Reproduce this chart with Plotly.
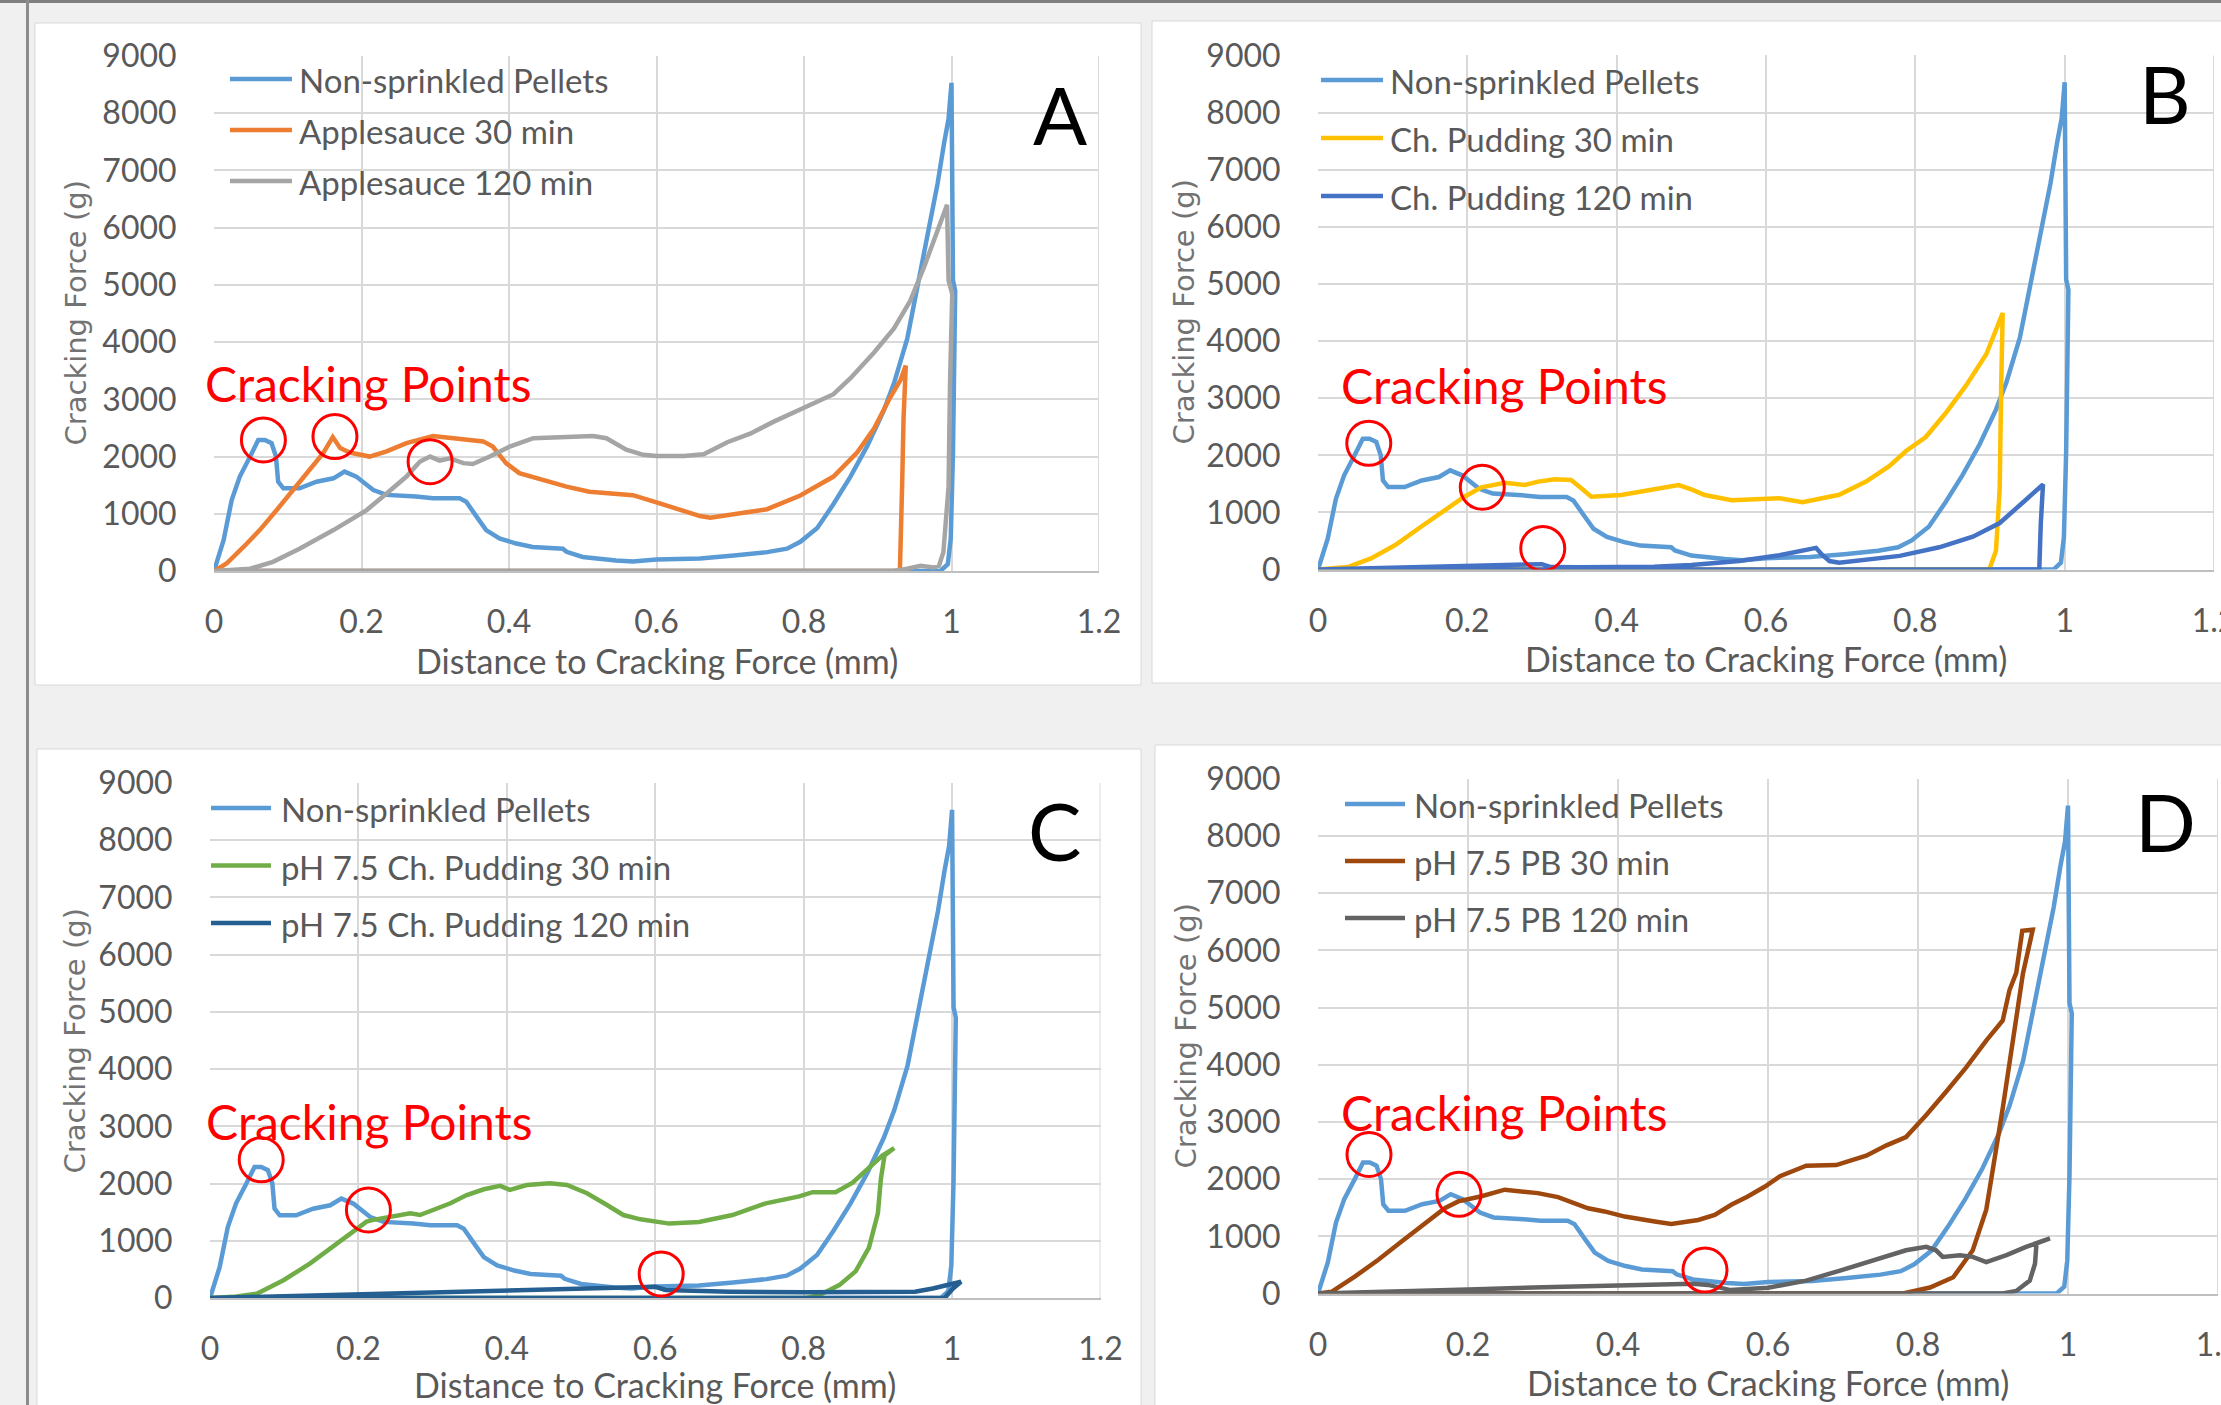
import plotly.graph_objects as go

W, H = 2221, 1405

# ---------------- data ----------------
x_ticks = [0, 0.2, 0.4, 0.6, 0.8, 1.0, 1.2]
x_tick_labels = ["0", "0.2", "0.4", "0.6", "0.8", "1", "1.2"]
y_ticks = [0, 1000, 2000, 3000, 4000, 5000, 6000, 7000, 8000, 9000]
y_tick_labels = ["0", "1000", "2000", "3000", "4000", "5000", "6000", "7000", "8000", "9000"]

x_title = "Distance to Cracking Force (mm)"
y_title = "Cracking Force (g)"
note_text = "Cracking Points"
panel_letters = ["A", "B", "C", "D"]

# Non-sprinkled Pellets (same in all panels)
ns_x = [0, 0.013, 0.024, 0.035, 0.049, 0.060, 0.069, 0.078, 0.084, 0.087, 0.094, 0.116, 0.139, 0.162,
        0.177, 0.193, 0.216, 0.234, 0.274, 0.297, 0.333, 0.342, 0.356, 0.369, 0.387, 0.41, 0.432, 0.473,
        0.478, 0.5, 0.545, 0.568, 0.6, 0.659, 0.705, 0.75, 0.777, 0.795, 0.818, 0.84, 0.863, 0.886, 0.908,
        0.922, 0.94, 0.953, 0.967, 0.981, 0.99, 0.996, 1.0, 1.001, 1.002, 1.005, 1.004, 1.002, 0.999,
        0.995, 0.985, 0]
ns_y = [0, 540, 1240, 1650, 2000, 2290, 2290, 2235, 2000, 1560, 1445, 1445, 1560, 1620,
        1737, 1650, 1415, 1330, 1300, 1270, 1270, 1210, 950, 715, 570, 480, 420, 390,
        335, 245, 185, 165, 200, 220, 270, 330, 390, 510, 750, 1170, 1650, 2190, 2800,
        3280, 4060, 4900, 5860, 6760, 7480, 7900, 8530, 7480, 5080, 4900, 3880, 2070, 570,
        120, 0, 0]

# Panel A
as30_x = [0, 0.017, 0.04, 0.062, 0.085, 0.107, 0.13, 0.148, 0.161, 0.171, 0.184, 0.211, 0.234, 0.261,
          0.297, 0.333, 0.365, 0.378, 0.396, 0.414, 0.455, 0.478, 0.509, 0.568, 0.6, 0.659, 0.673, 0.75,
          0.795, 0.84, 0.872, 0.895, 0.917, 0.931, 0.938, 0.935, 0.933, 0.93, 0]
as30_y = [0, 130, 420, 715, 1065, 1415, 1765, 2060, 2340, 2150, 2070, 2000, 2090, 2235,
          2360, 2320, 2265, 2175, 1885, 1710, 1560, 1475, 1385, 1325, 1200, 960, 930, 1080,
          1320, 1650, 2070, 2490, 3035, 3340, 3590, 2670, 1470, 0, 0]
as120_x = [0, 0.049, 0.08, 0.116, 0.162, 0.207, 0.234, 0.261, 0.279, 0.293, 0.306, 0.32, 0.338, 0.351,
           0.374, 0.401, 0.433, 0.478, 0.514, 0.532, 0.559, 0.582, 0.6, 0.637, 0.664, 0.696, 0.727, 0.759,
           0.795, 0.84, 0.863, 0.895, 0.922, 0.944, 0.963, 0.981, 0.994, 0.996, 1.001, 0.998, 0.996, 0.989,
           0.983, 0.976, 0.958, 0.94, 0.922, 0]
as120_y = [0, 40, 160, 390, 715, 1065, 1355, 1650, 1910, 2000, 1930, 1970, 1885, 1870,
           2000, 2175, 2320, 2335, 2360, 2320, 2120, 2030, 2010, 2010, 2040, 2250, 2400, 2610,
           2820, 3090, 3370, 3820, 4240, 4720, 5320, 5920, 6400, 5080, 4840, 3280, 1470, 330,
           90, 60, 90, 40, 0, 0]

# Panel B
cp30_x = [0, 0.04, 0.071, 0.103, 0.138, 0.17, 0.196, 0.219, 0.232, 0.25, 0.277, 0.295, 0.317, 0.339,
          0.353, 0.366, 0.406, 0.451, 0.483, 0.5, 0.518, 0.554, 0.598, 0.618, 0.649, 0.698, 0.734, 0.765,
          0.788, 0.814, 0.841, 0.868, 0.895, 0.917, 0.915, 0.913, 0.908, 0.899, 0]
cp30_y = [0, 45, 195, 425, 750, 1040, 1275, 1440, 1480, 1520, 1480, 1540, 1580, 1570,
          1420, 1275, 1305, 1405, 1480, 1405, 1305, 1215, 1230, 1250, 1180, 1310, 1540, 1810,
          2080, 2320, 2745, 3225, 3770, 4490, 3225, 1420, 330, 0, 0]
cp120_x = [0, 0.1, 0.2, 0.28, 0.3, 0.312, 0.35, 0.45, 0.5, 0.564, 0.618, 0.667, 0.675, 0.685, 0.698,
           0.779, 0.832, 0.877, 0.913, 0.944, 0.971, 0.968, 0.966, 0]
cp120_y = [0, 30, 70, 100, 95, 45, 40, 50, 80, 150, 250, 380, 260, 150, 120,
           240, 390, 575, 815, 1175, 1490, 800, 0, 0]

# Panel C
g30_x = [0, 0.031, 0.063, 0.099, 0.135, 0.166, 0.193, 0.211, 0.22, 0.238, 0.256, 0.27, 0.283, 0.301,
         0.324, 0.346, 0.369, 0.391, 0.404, 0.427, 0.458, 0.481, 0.508, 0.535, 0.557, 0.58, 0.607, 0.619,
         0.659, 0.704, 0.749, 0.794, 0.812, 0.843, 0.866, 0.888, 0.906, 0.922, 0.909, 0.904, 0.9, 0.888,
         0.87, 0.848, 0.821, 0.803, 0]
g30_y = [0, 20, 75, 310, 605, 895, 1160, 1335, 1365, 1410, 1450, 1480, 1450, 1540,
         1655, 1800, 1900, 1960, 1890, 1975, 2005, 1975, 1830, 1625, 1450, 1375, 1315, 1300,
         1330, 1450, 1655, 1775, 1850, 1850, 2015, 2285, 2490, 2620, 2490, 2075, 1480, 880,
         465, 225, 50, 0, 0]
g120_x = [0, 0.2, 0.4, 0.525, 0.6, 0.614, 0.7, 0.8, 0.9, 0.95, 0.974, 0.992, 1.012, 1.0, 0.99, 0]
g120_y = [0, 60, 120, 165, 195, 140, 110, 100, 105, 110, 165, 225, 285, 150, 0, 0]

# Panel D
pb30_x = [0, 0.018, 0.049, 0.08, 0.111, 0.138, 0.169, 0.187, 0.2, 0.218, 0.249, 0.271, 0.293, 0.32,
          0.36, 0.382, 0.409, 0.449, 0.471, 0.507, 0.529, 0.551, 0.573, 0.596, 0.616, 0.651, 0.691,
          0.731, 0.758, 0.784, 0.811, 0.838, 0.864, 0.891, 0.913, 0.922, 0.931, 0.939, 0.953, 0.94,
          0.927, 0.913, 0.902, 0.891, 0.873, 0.847, 0.816, 0.78, 0]
pb30_y = [0, 30, 295, 585, 905, 1170, 1490, 1610, 1640, 1700, 1815, 1785, 1755, 1685,
          1490, 1435, 1345, 1260, 1215, 1285, 1375, 1550, 1695, 1870, 2050, 2235, 2245,
          2410, 2590, 2735, 3120, 3535, 3950, 4420, 4775, 5305, 5605, 6340, 6360, 5600,
          4420, 3240, 2350, 1465, 755, 285, 105, 0, 0]
pb120_x = [0, 0.1, 0.2, 0.3, 0.4, 0.5, 0.52, 0.55, 0.6, 0.651, 0.696, 0.74, 0.784, 0.811, 0.824,
           0.833, 0.856, 0.873, 0.891, 0.918, 0.944, 0.976, 0.958, 0.956, 0.949, 0.931, 0.913, 0]
pb120_y = [0, 30, 70, 110, 140, 170, 150, 60, 100, 225, 400, 580, 755, 815, 755,
           640, 670, 640, 550, 670, 815, 965, 875, 520, 225, 45, 0, 0]

# Cracking points (circled)
crack_A_x = [0.067, 0.164, 0.293]
crack_A_y = [2290, 2350, 1910]
crack_B_x = [0.068, 0.22, 0.301]
crack_B_y = [2210, 1440, 370]
crack_C_x = [0.069, 0.2135, 0.608]
crack_C_y = [2415, 1540, 420]
crack_D_x = [0.068, 0.188, 0.516]
crack_D_y = [2430, 1735, 410]

# ---------------- styling ----------------
C_NS = "#5B9BD5"
FONT = "Lato, 'Liberation Sans', sans-serif"
YFONT = "'DejaVu Sans', sans-serif"
TXT = "#595959"
GRID = "#D9D9D9"


def px(x):
    return x / W


def py(y):
    return 1 - y / H


panels = [
    dict(series=[("Non-sprinkled Pellets", ns_x, ns_y, C_NS),
                 ("Applesauce 30 min", as30_x, as30_y, "#ED7D31"),
                 ("Applesauce 120 min", as120_x, as120_y, "#A5A5A5")],
         crack=(crack_A_x, crack_A_y), plot=(214, 1099, 56, 571), box=(35, 1141, 23, 685),
         leg=(230, 292, 297, [79, 130, 181]), ytit=(76, 313.5), xtit=(656.5, 660),
         letter=(1060, 108), note=(367.5, 379)),
    dict(series=[("Non-sprinkled Pellets", ns_x, ns_y, C_NS),
                 ("Ch. Pudding 30 min", cp30_x, cp30_y, "#FFC000"),
                 ("Ch. Pudding 120 min", cp120_x, cp120_y, "#4472C4")],
         crack=(crack_B_x, crack_B_y), plot=(1318, 2214, 55.4, 569.6), box=(1152, 2250, 21, 683),
         leg=(1321, 1383, 1388, [80, 138, 196]), ytit=(1183, 312.5), xtit=(1766, 658.5),
         letter=(2165, 87), note=(1503.5, 381)),
    dict(series=[("Non-sprinkled Pellets", ns_x, ns_y, C_NS),
                 ("pH 7.5 Ch. Pudding 30 min", g30_x, g30_y, "#70AD47"),
                 ("pH 7.5 Ch. Pudding 120 min", g120_x, g120_y, "#255E91")],
         crack=(crack_C_x, crack_C_y), plot=(210, 1100.5, 783, 1298), box=(37, 1141, 749, 1430),
         leg=(211, 271, 279, [808, 865.5, 923]), ytit=(74.5, 1041), xtit=(655, 1384),
         letter=(1054, 824.5), note=(369, 1117.5)),
    dict(series=[("Non-sprinkled Pellets", ns_x, ns_y, C_NS),
                 ("pH 7.5 PB 30 min", pb30_x, pb30_y, "#9E480E"),
                 ("pH 7.5 PB 120 min", pb120_x, pb120_y, "#636363")],
         crack=(crack_D_x, crack_D_y), plot=(1318, 2218, 778.7, 1293.5), box=(1155, 2250, 745, 1430),
         leg=(1345, 1405, 1412, [804, 861, 918]), ytit=(1185.5, 1036), xtit=(1768, 1382),
         letter=(2165, 815), note=(1503.5, 1108)),
]

fig = go.Figure()
shapes = []
annotations = []
layout_axes = {}

for i, p in enumerate(panels):
    n = "" if i == 0 else str(i + 1)
    xa, ya = "x" + n, "y" + n
    l, r, t, b = p["plot"]
    layout_axes["xaxis" + n] = dict(
        domain=[px(l), px(r)], range=[0, 1.2], anchor=ya, tickvals=x_ticks, ticktext=x_tick_labels,
        showgrid=True, gridcolor=GRID, gridwidth=2, zeroline=False, showline=True,
        linecolor="#BFBFBF", linewidth=2, ticks="outside", ticklen=22, tickcolor="rgba(0,0,0,0)",
        ticklabeloverflow="allow",
        tickfont=dict(family=FONT, size=32, color=TXT), fixedrange=True, automargin=False)
    layout_axes["yaxis" + n] = dict(
        domain=[py(b), py(t)], range=[0, 9000], anchor=xa, tickvals=y_ticks, ticktext=y_tick_labels,
        showgrid=True, gridcolor=GRID, gridwidth=2, zeroline=False, showline=False,
        ticks="outside", ticklen=30, tickcolor="rgba(0,0,0,0)",
        tickfont=dict(family=FONT, size=32, color=TXT), fixedrange=True, automargin=False)

    for name, xs, ys, col in p["series"]:
        fig.add_trace(go.Scatter(x=xs, y=ys, mode="lines", name=name, showlegend=False,
                                 line=dict(color=col, width=4.5), xaxis=xa, yaxis=ya))

    # white chart box
    bl, br, bt, bb = p["box"]
    shapes.append(dict(type="rect", xref="paper", yref="paper", x0=px(bl), x1=px(br), y0=py(bb), y1=py(bt),
                       fillcolor="white", line=dict(color=GRID, width=1), layer="below"))
    # right edge gridline (x = 1.2)
    shapes.append(dict(type="line", xref=xa, yref="y" + n + " domain", x0=1.2, x1=1.2, y0=0, y1=1,
                       line=dict(color=GRID, width=2), layer="below"))

    # custom legend
    l0, l1, tx, rows = p["leg"]
    for (name, xs, ys, col), ry in zip(p["series"], rows):
        shapes.append(dict(type="line", xref="paper", yref="paper", x0=px(l0), x1=px(l1), y0=py(ry), y1=py(ry),
                           line=dict(color=col, width=4.5)))
        annotations.append(dict(text=name, xref="paper", yref="paper", x=px(tx), y=py(ry + 1),
                                xanchor="left", yanchor="middle", showarrow=False,
                                font=dict(family=FONT, size=33, color=TXT)))

    # circles at cracking points
    cxs, cys = p["crack"]
    for cx, cy in zip(cxs, cys):
        shapes.append(dict(type="circle", xref=xa, yref=ya, xsizemode="pixel", ysizemode="pixel",
                           xanchor=cx, yanchor=cy, x0=-22, x1=22, y0=-22, y1=22,
                           line=dict(color="#FF0000", width=3)))

    # texts
    annotations.append(dict(text=note_text, xref="paper", yref="paper", x=px(p["note"][0]), y=py(p["note"][1] + 4),
                            xanchor="center", yanchor="middle", showarrow=False,
                            font=dict(family=FONT, size=48, color="#FF0000")))
    annotations.append(dict(text=panel_letters[i], xref="paper", yref="paper", x=px(p["letter"][0]),
                            y=py(p["letter"][1] + 6), xanchor="center", yanchor="middle", showarrow=False,
                            font=dict(family=FONT, size=80, color="#000000")))
    annotations.append(dict(text=x_title, xref="paper", yref="paper", x=px(p["xtit"][0]), y=py(p["xtit"][1]),
                            xanchor="center", yanchor="middle", showarrow=False,
                            font=dict(family=FONT, size=34, color=TXT)))
    annotations.append(dict(text=y_title, xref="paper", yref="paper", x=px(p["ytit"][0]), y=py(p["ytit"][1]),
                            xanchor="center", yanchor="middle", showarrow=False, textangle=-90,
                            font=dict(family=YFONT, size=29, color="#737373")))

# screenshot frame lines
shapes.append(dict(type="line", xref="paper", yref="paper", x0=0, x1=1, y0=py(1.5), y1=py(1.5),
                   line=dict(color="#7F7F7F", width=3)))
shapes.append(dict(type="line", xref="paper", yref="paper", x0=px(27.5), x1=px(27.5), y0=0, y1=1,
                   line=dict(color="#8C8C8C", width=3)))

fig.update_layout(
    width=W, height=H, autosize=False,
    margin=dict(l=0, r=0, t=0, b=0, pad=0, autoexpand=False),
    paper_bgcolor="#F0F0F0", plot_bgcolor="white",
    showlegend=False, shapes=shapes, annotations=annotations, **layout_axes)

fig.write_html("out.html", config={"displayModeBar": False, "responsive": False})
